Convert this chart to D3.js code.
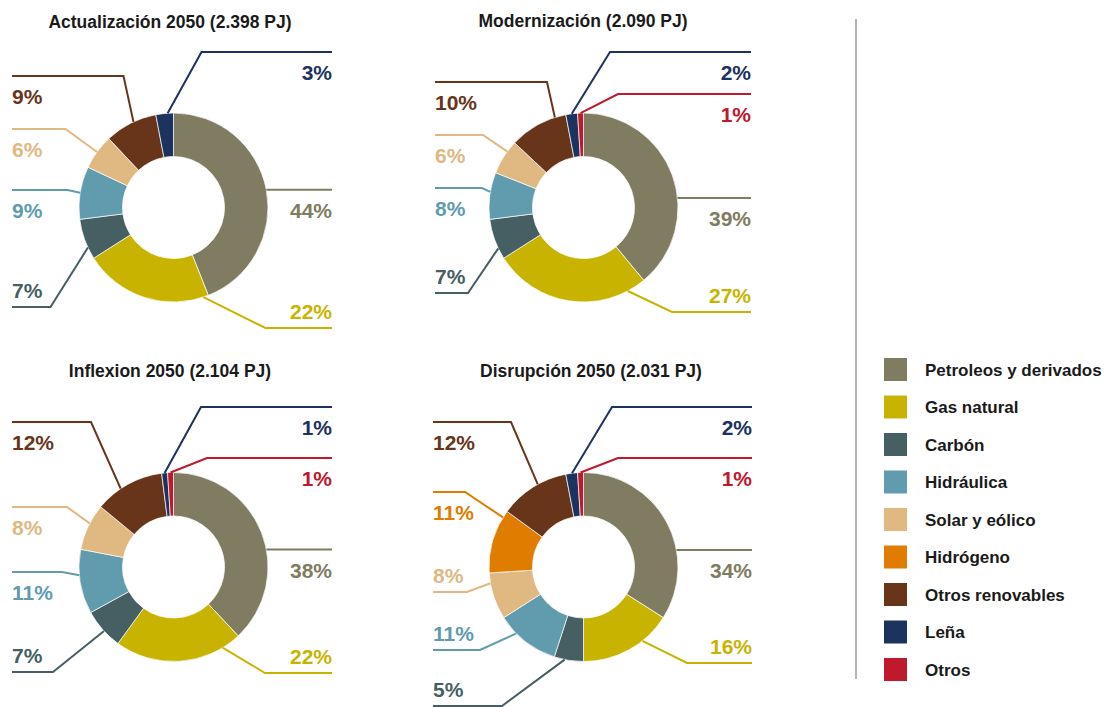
<!DOCTYPE html>
<html>
<head>
<meta charset="utf-8">
<script src="https://cdn.jsdelivr.net/npm/d3@7"></script>
<style>
  body { margin: 0; background: #fff; }
  svg { display: block; }
  text { font-family: "Liberation Sans", Arial, sans-serif; font-weight: bold; }
</style>
</head>
<body>
<svg id="chart" width="1106" height="707"></svg>
<script>
// Data
const categories = ["Petroleos y derivados", "Gas natural", "Carbón", "Hidráulica", "Solar y eólico",
                    "Hidrógeno", "Otros renovables", "Leña", "Otros"]
const colors = ["#807c61", "#c8b400", "#465f63", "#609bae", "#e0b882",
                "#e07d00", "#68351a", "#1b335e", "#c0182d"]
const titles = ["Actualización 2050 (2.398 PJ)", "Modernización (2.090 PJ)",
                "Inflexion 2050 (2.104 PJ)", "Disrupción 2050 (2.031 PJ)"]
const actualizacion = [44, 22, 7, 9, 6, 0, 9, 3, 0]
const modernizacion = [39, 27, 7, 8, 6, 0, 10, 2, 1]
const inflexion     = [38, 22, 7, 11, 8, 0, 12, 1, 1]
const disrupcion    = [34, 16, 5, 11, 8, 11, 12, 2, 1]
const scenarios = [actualizacion, modernizacion, inflexion, disrupcion]

// Layout
const outerR = 94.5, innerR = 51
const panels = [
  {cx: 173.5, cy: 207.5, left: 12,  right: 332, titleX: 170, titleY: 28},
  {cx: 583.5, cy: 207.5, left: 435, right: 751, titleX: 583, titleY: 27},
  {cx: 173.5, cy: 567,   left: 12,  right: 332, titleX: 170, titleY: 377},
  {cx: 583.5, cy: 567,   left: 433, right: 752, titleX: 591, titleY: 377}
]
// callouts per category: [spot along the slice 0..1, elbow dx, elbow dy] (relative to centre)
// only a spot -> the line leaves the ring horizontally
const callouts = [
  [[0.5], [0.04, 92, 120.5], [0.29, -123, 99.5], [0.5, -106, -17.5], [0.5, -108, -78.5],
   null, [0.56, -50, -131.5], [0.67, 28, -155.5], null],
  [[0.6], [0.12, 88.5, 104.5], [0.27, -115.5, 85.5], [0.58, -101.5, -19.5], [0.68, -100.5, -72.5],
   null, [0.81, -36.5, -125.5], [0.51, 26.5, -155.5], [0.5, 34.5, -113.5]],
  [[0.58], [0.15, 91.5, 106], [0.45, -120.5, 105], [0.6, -111.5, 5], [0.58, -106.5, -60],
   null, [0.38, -82.5, -145], [0.5, 27.5, -160], [0.5, 33.5, -109]],
  [[0.65], [0.33, 103.5, 96], [0.64, -81.5, 139], [0.69, -103.5, 83], [0.78, -116.5, 25],
   [0.89, -118.5, -75], [0.58, -72.5, -145], [0.53, 28.5, -160], [0.5, 34.5, -109]]
]

const svg = d3.select("#chart")

const pie = d3.pie().sort(null).value(d => d.value)
const arc = d3.arc().innerRadius(innerR).outerRadius(outerR)

scenarios.forEach((values, i) => {
  const p = panels[i]
  const rows = values.map((v, k) => ({value: v, k: k})).filter(d => d.value > 0)
  const arcs = pie(rows)

  svg.append("text")
     .attr("x", p.titleX)
     .attr("y", p.titleY)
     .attr("text-anchor", "middle")
     .style("font-size", "17.5px")
     .style("fill", "#1a1a1a")
     .text(titles[i])

  const g = svg.append("g").attr("transform", `translate(${p.cx},${p.cy})`)

  g.selectAll("path.slice")
   .data(arcs)
   .join("path")
   .attr("class", "slice")
   .attr("d", arc)
   .attr("fill", d => colors[d.data.k])
   .attr("stroke", "#fff")
   .attr("stroke-width", 0.7)

  arcs.forEach(a => {
    const c = callouts[i][a.data.k]
    if (!c) return
    const ang = a.startAngle + c[0] * (a.endAngle - a.startAngle)
    const sx = outerR * Math.sin(ang), sy = -outerR * Math.cos(ang)
    const ex = c.length > 1 ? c[1] : sx
    const ey = c.length > 1 ? c[2] : sy
    const right = ex > 0
    const edge = right ? p.right - p.cx : p.left - p.cx
    const col = colors[a.data.k]

    g.append("polyline")
     .attr("points", [[sx, sy], [ex, ey], [edge, ey]].map(q => q.join(",")).join(" "))
     .attr("fill", "none")
     .attr("stroke", col)
     .attr("stroke-width", 2)

    g.append("text")
     .attr("x", edge)
     .attr("y", ey > 15 ? ey - 9.5 : ey + 28)
     .attr("text-anchor", right ? "end" : "start")
     .style("font-size", "21px")
     .style("fill", col)
     .text(a.data.value + "%")
  })
})

// separator
svg.append("line")
   .attr("x1", 856).attr("x2", 856)
   .attr("y1", 19).attr("y2", 679)
   .attr("stroke", "#b3b3b3")
   .attr("stroke-width", 2)

// legend
const yLegend = d3.scalePoint().domain(categories).range([369.5, 669.5])
const legend = svg.append("g")
  .selectAll("g")
  .data(categories)
  .join("g")
  .attr("transform", d => `translate(884,${yLegend(d)})`)

legend.append("rect")
      .attr("y", -11.5)
      .attr("width", 23)
      .attr("height", 23)
      .attr("fill", (d, k) => colors[k])

legend.append("text")
      .attr("x", 41)
      .attr("dy", "0.36em")
      .style("font-size", "17px")
      .style("fill", "#1a1a1a")
      .text(d => d)
</script>
</body>
</html>
